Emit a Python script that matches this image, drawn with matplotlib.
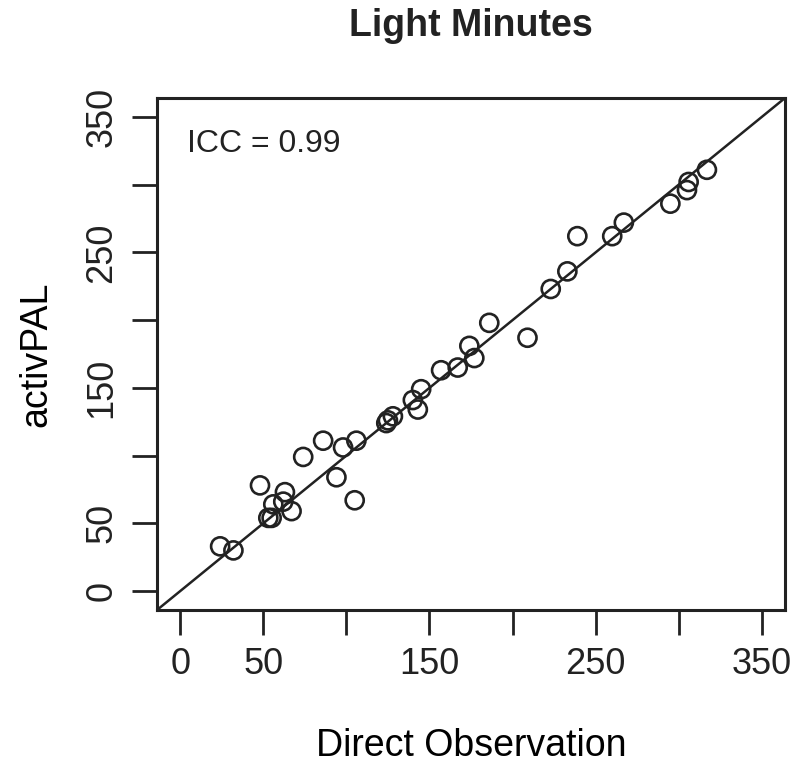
import matplotlib.pyplot as plt
import numpy as np

# data
direct_obs = [24, 32, 48, 53, 55, 56, 62, 63, 67, 74, 86, 94, 98, 105, 106, 124, 125, 128,
              140, 143, 145, 157, 167, 174, 177, 186, 209, 223, 233, 239, 260, 267, 295,
              305, 306, 317]
activpal = [33, 30, 78, 54, 54, 64, 66, 73, 59, 99, 111, 84, 106, 67, 111, 124, 126, 129,
            141, 134, 149, 163, 165, 181, 172, 198, 187, 223, 236, 262, 262, 272, 286,
            296, 302, 311]
tick_vals = [0, 50, 100, 150, 200, 250, 300, 350]
tick_labels = ['0', '50', '', '150', '', '250', '', '350']

ink = '#222222'
plt.rcParams['font.family'] = ['Liberation Sans', 'DejaVu Sans']
plt.rcParams['text.color'] = ink
plt.rcParams['axes.edgecolor'] = ink
plt.rcParams['xtick.color'] = ink
plt.rcParams['ytick.color'] = ink

fig = plt.figure(figsize=(8, 7.63), dpi=100)
ax = fig.add_axes([157 / 800, 1 - 610 / 763, (785 - 157) / 800, (610 - 98) / 763])

ax.scatter(direct_obs, activpal, s=13 ** 2, facecolors='none', edgecolors=ink,
           linewidths=1.9, zorder=3)
ax.plot([-20, 380], [-20, 380], color=ink, lw=1.8, zorder=2)

ax.set_xlim(-14, 364)
ax.set_ylim(-14, 364)
ax.set_xticks(tick_vals)
ax.set_xticklabels(tick_labels)
ax.set_yticks(tick_vals)
ax.set_yticklabels(tick_labels, rotation=90, va='center')
ax.tick_params(length=18, width=2, labelsize=26, pad=9)
for sp in ax.spines.values():
    sp.set_linewidth(2.2)

ax.set_xlabel('Direct Observation', fontsize=27, labelpad=33)
ax.set_ylabel('activPAL', fontsize=27, labelpad=22)
ax.set_title('Light Minutes', fontsize=27, fontweight='bold', pad=45)
ax.text(0.048, 0.94, 'ICC = 0.99', transform=ax.transAxes, fontsize=23,
        ha='left', va='top')

fig.savefig('out.png', dpi=100)
